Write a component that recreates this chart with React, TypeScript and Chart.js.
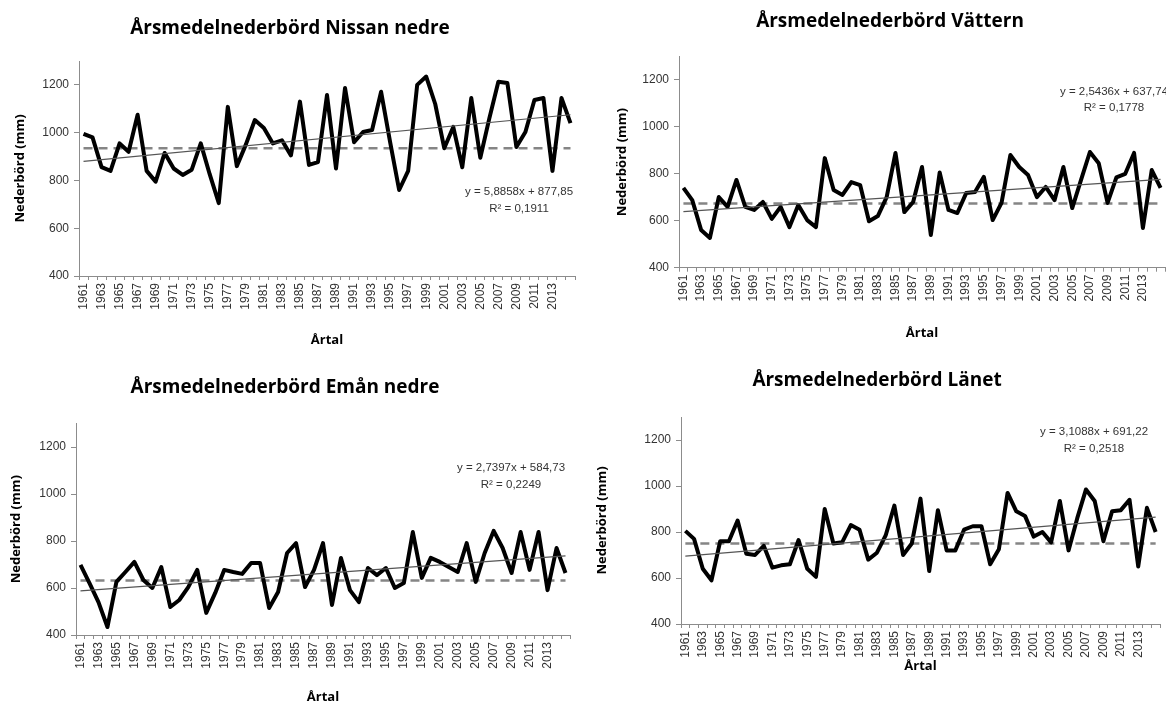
import React, { useEffect, useRef } from "react";
import { Chart, registerables } from "chart.js";

Chart.register(...registerables);

const years = [
  "1961", "1962", "1963", "1964", "1965", "1966", "1967", "1968", "1969", "1970",
  "1971", "1972", "1973", "1974", "1975", "1976", "1977", "1978", "1979", "1980",
  "1981", "1982", "1983", "1984", "1985", "1986", "1987", "1988", "1989", "1990",
  "1991", "1992", "1993", "1994", "1995", "1996", "1997", "1998", "1999", "2000",
  "2001", "2002", "2003", "2004", "2005", "2006", "2007", "2008", "2009", "2010",
  "2011", "2012", "2013", "2014", "2015",
];

const xTickLabels = [
  "1961", "1963", "1965", "1967", "1969", "1971", "1973", "1975", "1977", "1979",
  "1981", "1983", "1985", "1987", "1989", "1991", "1993", "1995", "1997", "1999",
  "2001", "2003", "2005", "2007", "2009", "2011", "2013",
];

const yTicks = [400, 600, 800, 1000, 1200];

const nissanValues = [
  995, 980, 856, 840, 955, 920, 1075, 840, 795, 915,
  850, 823, 845, 955, 825, 705, 1108, 860, 950, 1053,
  1020, 955, 968, 905, 1130, 865, 877, 1158, 850, 1187,
  960, 1003, 1011, 1171, 960, 760, 840, 1200, 1235, 1120,
  935, 1024, 855, 1145, 895, 1060, 1213, 1208, 940, 1003,
  1137, 1145, 840, 1145, 1040,
];
const nissanTrend = [880, 1075];
const nissanMean = 935;

const vatternValues = [
  740, 688, 561, 527, 701, 659, 774, 659, 646, 680,
  608, 659, 573, 667, 603, 573, 867, 731, 710, 765,
  752, 598, 620, 701, 889, 637, 680, 829, 539, 806,
  646, 633, 718, 723, 787, 603, 676, 880, 829, 795,
  701, 744, 688, 829, 654, 774, 893, 845, 676, 785,
  800, 889, 569, 816, 740,
];
const vatternTrend = [639, 776];
const vatternMean = 674;

const emanValues = [
  698, 621, 540, 434, 626, 668, 711, 634, 600, 689,
  519, 549, 604, 677, 494, 579, 677, 668, 660, 706,
  706, 515, 583, 749, 791, 604, 677, 791, 528, 728,
  591, 540, 685, 655, 685, 600, 621, 838, 643, 728,
  711, 689, 668, 791, 626, 749, 843, 770, 664, 838,
  677, 838, 591, 770, 664,
];
const emanTrend = [588, 737];
const emanMean = 632;

const lanetValues = [
  805, 770, 640, 590, 760, 760, 850, 705, 700, 740,
  645, 655, 660, 765, 640, 605, 900, 750, 755, 830,
  810, 680, 710, 785, 915, 700, 750, 945, 630, 895,
  720, 720, 810, 825, 825, 660, 725, 970, 890, 870,
  780, 800, 755, 935, 720, 860, 985, 935, 760, 890,
  895, 940, 650, 905, 800,
];
const lanetTrend = [695, 865];
const lanetMean = 750;

type Layout = {
  x: number; y: number; w: number; h: number;
  left: number; right: number; top: number; bottom: number;
  titleX: number; titleY: number;
  yTitleX: number; xTitleY: number;
  eqX: number; eqY: number; r2Y: number;
};

type PanelCfg = {
  title: string;
  values: number[];
  trend: number[];
  mean: number;
  eq: string;
  r2: string;
  L: Layout;
};

const panels: PanelCfg[] = [
  {
    title: "Årsmedelnederbörd Nissan nedre",
    values: nissanValues, trend: nissanTrend, mean: nissanMean,
    eq: "y = 5,8858x + 877,85", r2: "R² = 0,1911",
    L: { x: 0, y: 0, w: 590, h: 352, left: 79, right: 575, top: 61, bottom: 276,
      titleX: 290, titleY: 29, yTitleX: 20, xTitleY: 340, eqX: 519, eqY: 192, r2Y: 209 },
  },
  {
    title: "Årsmedelnederbörd Vättern",
    values: vatternValues, trend: vatternTrend, mean: vatternMean,
    eq: "y = 2,5436x + 637,74", r2: "R² = 0,1778",
    L: { x: 590, y: 0, w: 576, h: 352, left: 89, right: 575, top: 56.5, bottom: 267.7,
      titleX: 300, titleY: 22, yTitleX: 32, xTitleY: 333, eqX: 524, eqY: 92, r2Y: 108 },
  },
  {
    title: "Årsmedelnederbörd Emån nedre",
    values: emanValues, trend: emanTrend, mean: emanMean,
    eq: "y = 2,7397x + 584,73", r2: "R² = 0,2249",
    L: { x: 0, y: 352, w: 590, h: 354, left: 76, right: 570, top: 71.5, bottom: 283,
      titleX: 285, titleY: 36, yTitleX: 16, xTitleY: 345, eqX: 511, eqY: 116, r2Y: 133 },
  },
  {
    title: "Årsmedelnederbörd Länet",
    values: lanetValues, trend: lanetTrend, mean: lanetMean,
    eq: "y = 3,1088x + 691,22", r2: "R² = 0,2518",
    L: { x: 590, y: 352, w: 576, h: 354, left: 91, right: 570, top: 65, bottom: 272,
      titleX: 287, titleY: 29, yTitleX: 12, xTitleY: 314, eqX: 504, eqY: 80, r2Y: 97 },
  },
];

const AXIS_COLOR = "#8c8c8c";
const TICK_COLOR = "#333";
const TICK_FONT = { family: "'Liberation Sans', Arial, sans-serif", size: 12 };
const AXIS_TITLE_SIZE = 13;
const AXIS_TITLE_FONT = { family: "'Open Sans', sans-serif", size: AXIS_TITLE_SIZE, weight: "bold" as const, lineHeight: 1.2 };

function Panel({ cfg }: { cfg: PanelCfg }) {
  const ref = useRef<HTMLCanvasElement>(null);

  useEffect(() => {
    const canvas = ref.current;
    if (!canvas) return;
    const L = cfg.L;
    const n = years.length;
    const ends = (a: number, b: number) =>
      years.map((_, i) => (i === 0 ? a : i === n - 1 ? b : null));
    const titleLH = AXIS_TITLE_SIZE * 1.2;

    const textPlugin = {
      id: "panelText",
      afterDraw(chart: Chart) {
        const ctx = chart.ctx;
        ctx.save();
        ctx.fillStyle = "#000";
        ctx.textAlign = "center";
        ctx.textBaseline = "middle";
        ctx.font = "bold 19px 'Open Sans', sans-serif";
        ctx.fillText(cfg.title, L.titleX, L.titleY);
        ctx.fillStyle = "#333";
        ctx.font = "11.5px 'Liberation Sans', Arial, sans-serif";
        ctx.fillText(cfg.eq, L.eqX, L.eqY);
        ctx.fillText(cfg.r2, L.eqX, L.r2Y);
        ctx.restore();
      },
    };

    const chart = new Chart(canvas, {
      type: "line",
      data: {
        labels: years,
        datasets: [
          {
            data: ends(cfg.trend[0], cfg.trend[1]),
            borderColor: "#555",
            borderWidth: 1.2,
            pointRadius: 0,
            spanGaps: true,
            tension: 0,
          },
          {
            data: cfg.values,
            borderColor: "#000",
            borderWidth: 4,
            pointRadius: 0,
            tension: 0,
            borderJoinStyle: "round",
          },
          {
            data: ends(cfg.mean, cfg.mean),
            borderColor: "#858585",
            borderWidth: 2.5,
            borderDash: [9, 6],
            pointRadius: 0,
            spanGaps: true,
            tension: 0,
          },
        ],
      },
      options: {
        responsive: false,
        animation: false,
        devicePixelRatio: 1,
        layout: { padding: { top: L.top, right: L.w - L.right, left: 0, bottom: 0 } },
        plugins: {
          legend: { display: false },
          tooltip: { enabled: false },
          title: { display: false },
        },
        scales: {
          x: {
            type: "category",
            offset: true,
            grid: {
              display: true,
              offset: true,
              drawOnChartArea: false,
              drawTicks: true,
              tickLength: 4,
              color: AXIS_COLOR,
            },
            border: { display: true, color: AXIS_COLOR, width: 1 },
            ticks: {
              autoSkip: false,
              maxRotation: 90,
              minRotation: 90,
              padding: 3,
              color: TICK_COLOR,
              font: TICK_FONT,
              callback: (_v: any, i: number) => (xTickLabels.includes(years[i]) ? years[i] : ""),
            },
            title: {
              display: true,
              text: "Årtal",
              color: "#000",
              font: AXIS_TITLE_FONT,
              padding: { top: 0, bottom: L.h - L.xTitleY - titleLH / 2 },
            },
            afterFit: (s: any) => {
              s.height = L.h - L.bottom;
              s.paddingLeft = 0;
              s.paddingRight = 0;
            },
          },
          y: {
            min: 400,
            max: 1300,
            afterBuildTicks: (s: any) => {
              s.ticks = yTicks.map((v) => ({ value: v }));
            },
            grid: {
              display: true,
              drawOnChartArea: false,
              drawTicks: true,
              tickLength: 5,
              color: AXIS_COLOR,
            },
            border: { display: true, color: AXIS_COLOR, width: 1 },
            ticks: {
              padding: 5,
              color: TICK_COLOR,
              font: TICK_FONT,
              callback: (v: any) => String(v),
            },
            title: {
              display: true,
              text: "Nederbörd (mm)",
              color: "#000",
              font: AXIS_TITLE_FONT,
              padding: { top: L.yTitleX - titleLH / 2, bottom: 0 },
            },
            afterFit: (s: any) => {
              s.width = L.left;
              s.paddingTop = 0;
              s.paddingBottom = 0;
            },
          },
        },
      },
      plugins: [textPlugin],
    } as any);

    return () => chart.destroy();
  }, [cfg]);

  return (
    <canvas
      ref={ref}
      width={cfg.L.w}
      height={cfg.L.h}
      style={{ position: "absolute", left: cfg.L.x, top: cfg.L.y, width: cfg.L.w, height: cfg.L.h }}
    />
  );
}

export default function App() {
  return (
    <div style={{ position: "absolute", left: 0, top: 0, width: 1166, height: 706, background: "#fff", overflow: "hidden" }}>
      {panels.map((p) => (
        <Panel key={p.title} cfg={p} />
      ))}
    </div>
  );
}
